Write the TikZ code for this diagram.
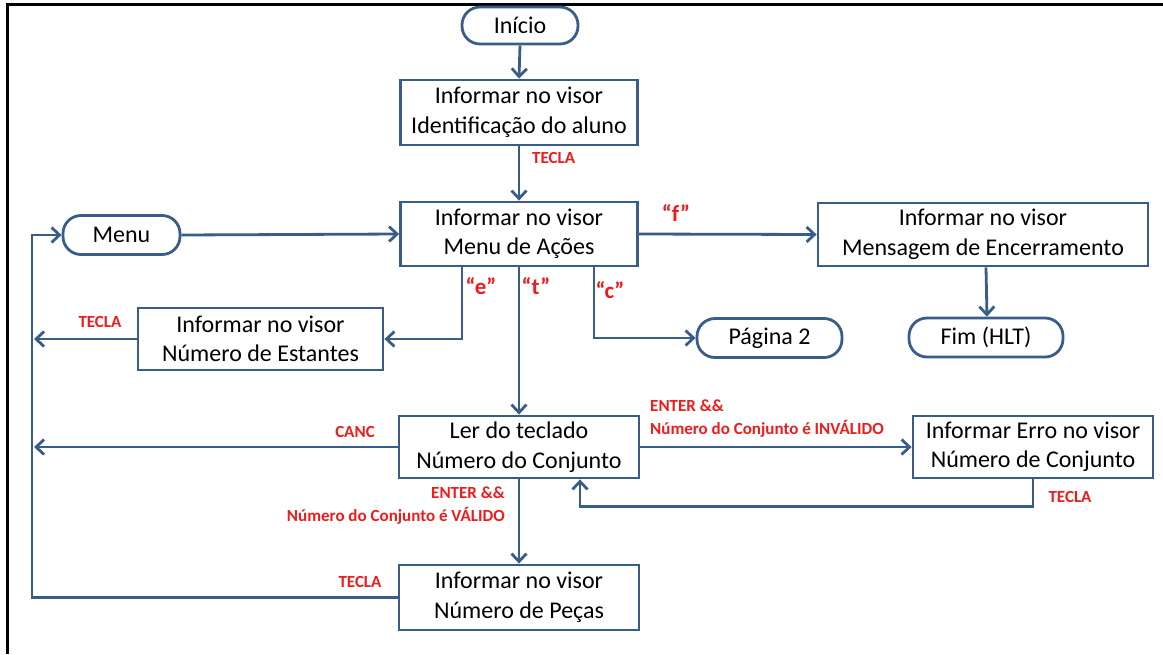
\documentclass[tikz,border=0pt]{standalone}
\usepackage{fontspec}
\setmainfont{Carlito}
\usetikzlibrary{arrows.meta}
\definecolor{boxblue}{HTML}{385D8A}
\definecolor{lblred}{HTML}{EE1C1C}
\begin{document}
\begin{tikzpicture}[x=1pt,y=-1pt,
  procbox/.style={draw=boxblue,line width=2.8pt,fill=white,rectangle,align=center,inner sep=0pt,font=\fontsize{24}{29.5}\selectfont},
  termbox/.style={draw=boxblue,line width=2.8pt,fill=white,rectangle,rounded corners=18pt,align=center,inner sep=0pt,font=\fontsize{24}{29.5}\selectfont},
  conn/.style={draw=boxblue,line width=2.8pt},
  arr/.style={conn,-{Straight Barb[length=8pt,width=15pt,line width=2.8pt]}},
  redlbl/.style={text=lblred,font=\bfseries\fontsize{17}{22.5}\selectfont,inner sep=0pt},
  quotelbl/.style={text=lblred,font=\bfseries\fontsize{23}{26}\selectfont,inner sep=0pt}
]
\useasboundingbox (0,0) rectangle (1163,654);
% frame
\draw[line width=3pt,black] (7,654) -- (7,4) -- (1163,4);

% nodes
\node[termbox,minimum width=116pt,minimum height=37pt] (inicio) at (520,25.5) {Início};
\node[procbox,minimum width=237pt,minimum height=65pt] (b1) at (519,112.5) {Informar no visor\\Identificação do aluno};
\node[procbox,minimum width=237pt,minimum height=64pt] (b2) at (519,234) {Informar no visor\\Menu de Ações};
\node[termbox,minimum width=117pt,minimum height=39pt] (menu) at (121.5,235) {Menu};
\node[procbox,minimum width=330pt,minimum height=63pt] (b3) at (983,234.5) {Informar no visor\\Mensagem de Encerramento};
\node[termbox,minimum width=154pt,minimum height=39pt] (fim) at (986,337.5) {Fim (HLT)};
\node[procbox,minimum width=245pt,minimum height=62pt] (est) at (260.5,339) {Informar no visor\\Número de Estantes};
\node[termbox,minimum width=145pt,minimum height=39pt] (pag) at (769.5,338) {Página 2};
\node[procbox,minimum width=240pt,minimum height=62pt] (ler) at (519,447) {Ler do teclado\\Número do Conjunto};
\node[procbox,minimum width=240pt,minimum height=62pt] (erro) at (1033,447) {Informar Erro no visor\\Número de Conjunto};
\node[procbox,minimum width=240pt,minimum height=65pt] (pecas) at (519,597.5) {Informar no visor\\Número de Peças};

% free ends on the left bus
\coordinate (estEnd) at (34,339);
\coordinate (cancEnd) at (34,447);
\coordinate (busX) at (32,0);

% connectors
\draw[arr] (inicio.south) -- (b1.north);
\draw[arr] (b1.south) -- (b2.north);
\draw[arr] (menu.east) -- (b2.west);
\draw[arr] (b2.east) -- (b3.west);
\draw[arr] ([xshift=3pt]b3.south) -- ([xshift=1pt]fim.north);
\draw[arr] ([xshift=-57pt]b2.south) |- (est.east);
\draw[arr] (est.west) -- (estEnd);
\draw[arr] (b2.south) -- (ler.north);
\draw[arr] ([xshift=75pt]b2.south) |- (pag.west);
\draw[arr] (ler.west) -- (cancEnd);
\draw[arr] (ler.east) -- (erro.west);
\draw[arr] (erro.south) -- ++(0,27) -| ([xshift=61pt]ler.south);
\draw[arr] (ler.south) -- (pecas.north);
\draw[arr] (pecas.west) -| (busX |- menu.west) -- (menu.west);

% labels
\node[redlbl,anchor=west] (l1) at (532,158) {TECLA};
\node[quotelbl] (lf) at (676,213) {“f”};
\node[quotelbl] (le) at (481,286) {“e”};
\node[quotelbl] (lt) at (536,286) {“t”};
\node[quotelbl] (lc) at (610,290) {“c”};
\node[redlbl] (l2) at (100,322) {TECLA};
\node[redlbl] (l3) at (355,432) {CANC};
\node[redlbl,anchor=north west,align=left] (l4) at (650,400) {ENTER \&\&\\Número do Conjunto é INVÁLIDO};
\node[redlbl] (l5) at (1070,497) {TECLA};
\node[redlbl,anchor=north east,align=right] (l6) at (505,487) {ENTER \&\&\\Número do Conjunto é VÁLIDO};
\node[redlbl] (l7) at (360,582) {TECLA};
\end{tikzpicture}
\end{document}
